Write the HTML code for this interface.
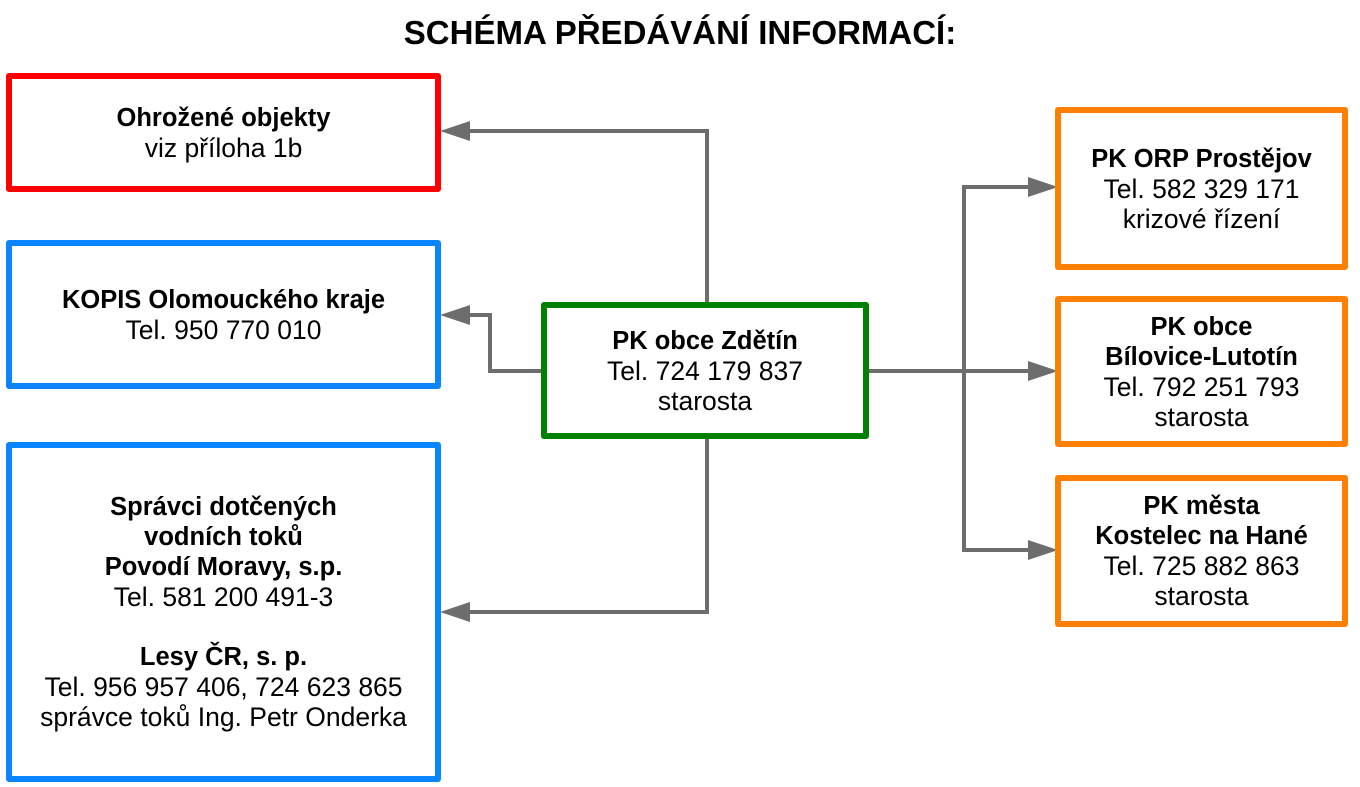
<!DOCTYPE html>
<html><head><meta charset="utf-8"><style>
html,body{margin:0;padding:0;background:#fff;}
body{width:1360px;height:787px;position:relative;overflow:hidden;font-family:"Liberation Sans",sans-serif;color:#000;}
.t{position:absolute;left:0;width:1360px;top:14px;text-align:center;font-weight:bold;font-size:33px;}
.b{position:absolute;box-sizing:border-box;border:6px solid;border-radius:3px;display:flex;flex-direction:column;justify-content:center;align-items:center;text-align:center;font-size:26.5px;line-height:30px;background:#fff;white-space:nowrap;}
.b b{font-weight:bold;font-size:25.5px;}
.red{border-color:#ff0000}.blue{border-color:#0a84ff}.green{border-color:#008000}.orange{border-color:#ff8000}
svg{position:absolute;left:0;top:0;}
</style></head><body>
<div class="t">SCHÉMA PŘEDÁVÁNÍ INFORMACÍ:</div>
<svg width="1360" height="787">
<g stroke="#6d6d6d" stroke-width="4" fill="none">
<polyline points="707,303 707,131 465,131"/>
<polyline points="544,371 490,371 490,315 465,315"/>
<polyline points="707,437 707,612 465,612"/>
<polyline points="867,371 1032,371"/>
<polyline points="1032,187 964,187 964,550 1032,550"/>
</g>
<g fill="#6d6d6d">
<polygon points="440,131 470,121 470,141"/>
<polygon points="440,315 470,305 470,325"/>
<polygon points="440,612 470,602 470,622"/>
<polygon points="1058,187 1028,177 1028,197"/>
<polygon points="1058,371 1028,361 1028,381"/>
<polygon points="1058,550 1028,540 1028,560"/>
</g>
</svg>
<div class="b red" style="left:6px;top:73px;width:435px;height:119px"><b>Ohrožené objekty</b>viz příloha 1b</div>
<div class="b blue" style="left:6px;top:240px;width:435px;height:149px"><b>KOPIS Olomouckého kraje</b>Tel. 950 770 010</div>
<div class="b blue" style="left:6px;top:442px;width:435px;height:340px"><b>Správci dotčených<br>vodních toků<br>Povodí Moravy, s.p.</b>Tel. 581 200 491-3<br><br><b>Lesy ČR, s. p.</b>Tel. 956 957 406, 724 623 865<br>správce toků Ing. Petr Onderka</div>
<div class="b green" style="left:541px;top:302px;width:328px;height:137px"><b>PK obce Zdětín</b>Tel. 724 179 837<br>starosta</div>
<div class="b orange" style="left:1055px;top:107px;width:293px;height:163px"><b>PK ORP Prostějov</b>Tel. 582 329 171<br>krizové řízení</div>
<div class="b orange" style="left:1055px;top:296px;width:293px;height:151px"><b>PK obce<br>Bílovice-Lutotín</b>Tel. 792 251 793<br>starosta</div>
<div class="b orange" style="left:1055px;top:475px;width:293px;height:152px"><b>PK města<br>Kostelec na Hané</b>Tel. 725 882 863<br>starosta</div>
</body></html>
